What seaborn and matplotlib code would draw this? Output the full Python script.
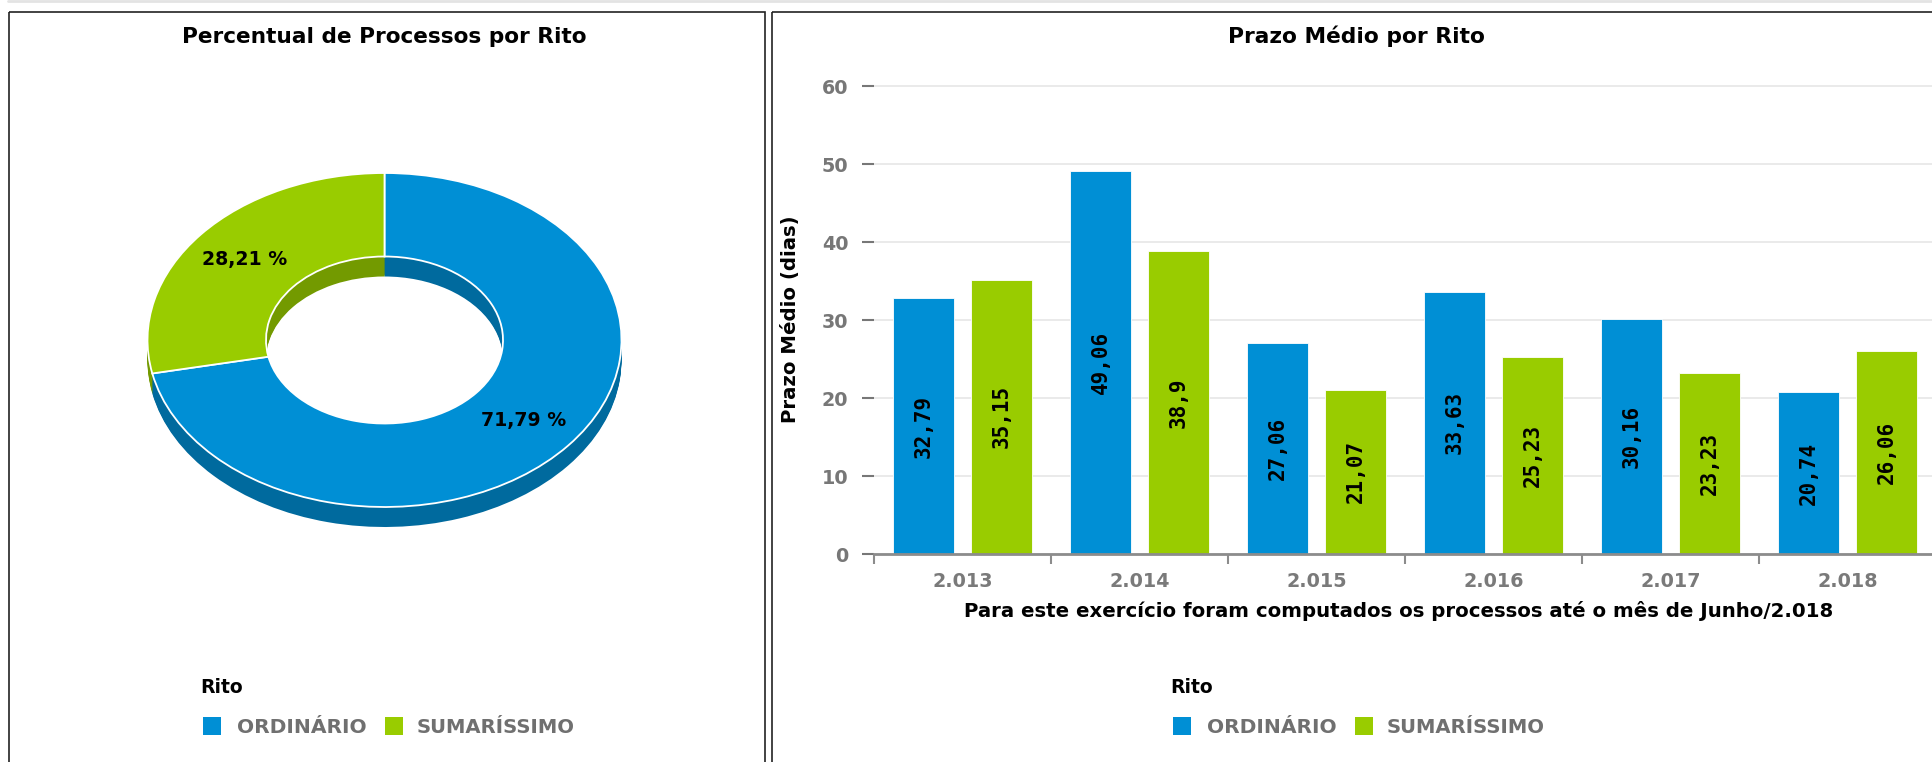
import numpy as np
import pandas as pd
import matplotlib
matplotlib.use("Agg")
import matplotlib.pyplot as plt
from matplotlib.patches import Rectangle
import seaborn as sns

# ---------------- data ----------------
ritos = ["ORDINÁRIO", "SUMARÍSSIMO"]
percentual = [71.79, 28.21]

anos = ["2.013", "2.014", "2.015", "2.016", "2.017", "2.018"]
prazo_ordinario = [32.79, 49.06, 27.06, 33.63, 30.16, 20.74]
prazo_sumarissimo = [35.15, 38.9, 21.07, 25.23, 23.23, 26.06]
y_ticks = [0, 10, 20, 30, 40, 50, 60]

titulo_pizza = "Percentual de Processos por Rito"
titulo_barras = "Prazo Médio por Rito"
rotulo_y = "Prazo Médio (dias)"
rotulo_x = "Para este exercício foram computados os processos até o mês de Junho/2.018"
titulo_legenda = "Rito"

cores = {"ORDINÁRIO": "#008fd5", "SUMARÍSSIMO": "#99cc00"}
cores_lado = {"ORDINÁRIO": "#006a9e", "SUMARÍSSIMO": "#739a00"}

# ---------------- figure ----------------
W, H = 1932, 762
sns.set_theme(style="white")
plt.rcParams["font.family"] = ["DejaVu Sans"]

fig = plt.figure(figsize=(W / 100, H / 100), dpi=100)
fig.patch.set_facecolor("white")


def fx(x):
    return x / W


def fy(y):
    return 1 - y / H


def box(l, t, r, b):
    return [fx(l), fy(b), (r - l) / W, (b - t) / H]


# background / panel frames (pixel coordinates)
bg = fig.add_axes([0, 0, 1, 1], zorder=-5)
bg.set_xlim(0, W)
bg.set_ylim(H, 0)
bg.axis("off")
bg.plot([8, W], [1, 1], color="#e3e3e3", lw=2)
bg.add_patch(Rectangle((8.5, 11.5), 756.5, 800, fill=False, ec="#222222", lw=1.2))
bg.add_patch(Rectangle((771.5, 11.5), 1300, 800, fill=False, ec="#222222", lw=1.2))

# ---------------- 3D-looking donut ----------------
sx, sy = 237, 167
cx, cy = 384.5, 340
depth = 20
axp = fig.add_axes(box(cx - 1.3 * sx, cy - 1.3 * sy, cx + 1.3 * sx, cy + 1.5 * sy))
lado = [cores_lado[r] for r in ritos]
topo = [cores[r] for r in ritos]
for t in np.arange(depth, 0, -1):
    axp.pie(percentual, colors=lado, startangle=90, counterclock=False,
            center=(0, -t / sy), wedgeprops=dict(width=0.5, linewidth=0))
axp.pie(percentual, colors=topo, startangle=90, counterclock=False,
        wedgeprops=dict(width=0.5, edgecolor="white", linewidth=1.3),
        autopct=lambda p: f"{p:.2f} %".replace(".", ","), pctdistance=0.76,
        textprops=dict(fontsize=13.6, fontweight="bold", color="black"))
axp.set_aspect("auto")
axp.set_xlim(-1.3, 1.3)
axp.set_ylim(-1.5, 1.3)
axp.axis("off")

# ---------------- bar chart ----------------
df = pd.DataFrame({
    "ano": anos * 2,
    "rito": [ritos[0]] * len(anos) + [ritos[1]] * len(anos),
    "prazo": prazo_ordinario + prazo_sumarissimo,
})
ax_l, ax_t, ax_r, ax_b = 874, 84, 1936, 554
axb = fig.add_axes(box(ax_l, ax_t, ax_r, ax_b))
sns.barplot(data=df, x="ano", y="prazo", hue="rito", order=anos, hue_order=ritos,
            palette=cores, saturation=1, width=0.882, gap=0.217, errorbar=None,
            edgecolor="white", linewidth=0.6, legend=False, ax=axb)
axb.set_xlim(-0.5, len(anos) - 0.5)
axb.set_ylim(0, 60 * (ax_b - ax_t) / (ax_b - 86))
axb.set_yticks(y_ticks)
axb.yaxis.grid(True, color="#e6e6e6", lw=1.2)
axb.xaxis.grid(False)
axb.set_axisbelow(True)
for s in ["left", "right", "top"]:
    axb.spines[s].set_visible(False)
axb.spines["bottom"].set_color("#8c8c8c")
axb.spines["bottom"].set_linewidth(2)
axb.tick_params(axis="y", left=True, length=8.5, width=1.5, color="#777777", pad=10,
                labelsize=13.8, labelcolor="#777777")
axb.tick_params(axis="x", which="major", bottom=True, length=0, pad=13,
                labelsize=13.8, labelcolor="#7a7a7a")
axb.set_xticks(np.arange(-0.5, len(anos)), minor=True)
axb.tick_params(axis="x", which="minor", bottom=True, length=7, width=1.5, color="#8c8c8c")
for lab in axb.get_xticklabels() + axb.get_yticklabels():
    lab.set_fontweight("bold")

for cont, serie in zip(axb.containers, [prazo_ordinario, prazo_sumarissimo]):
    axb.bar_label(cont, labels=[f"{v:g}".replace(".", ",") for v in serie],
                  label_type="center", rotation=90, fontsize=15, fontweight="bold",
                  family="DejaVu Sans Mono", color="black")

ylab = axb.set_ylabel(rotulo_y, fontsize=14.3, fontweight="bold", color="black")
axb.yaxis.set_label_coords((800 - ax_l) / (ax_r - ax_l), 0.5)
xlab = axb.set_xlabel(rotulo_x, fontsize=14, fontweight="bold", color="black")
axb.xaxis.set_label_coords((1399 - ax_l) / (ax_r - ax_l), -(601 - ax_b) / (ax_b - ax_t))

# ---------------- titles ----------------
t1 = fig.text(fx(384.5), fy(43), titulo_pizza, ha="center", va="baseline",
              fontsize=15.5, fontweight="bold", color="black")
t2 = fig.text(fx(1356), fy(43), titulo_barras, ha="center", va="baseline",
              fontsize=15.5, fontweight="bold", color="black")

# ---------------- legends ----------------
leg_texts = []
for x0 in (200, 1170):
    lt = fig.text(fx(x0), fy(693), titulo_legenda, ha="left", va="baseline",
                  fontsize=14, fontweight="bold", color="black")
    leg_texts.append((lt, 43))
    for rito, sq, tx, wd in zip(ritos, (x0 + 3, x0 + 185), (x0 + 37, x0 + 217), (130, 158)):
        bg.add_patch(Rectangle((sq, 717), 18, 18, fc=cores[rito], ec="none"))
        tt = fig.text(fx(tx), fy(733), rito, ha="left", va="baseline",
                      fontsize=14, fontweight="bold", color="#707070")
        leg_texts.append((tt, wd))

# ---------------- fit text widths to reference ----------------
fig.canvas.draw()
rend = fig.canvas.get_renderer()


def fit(t, target):
    ext = t.get_window_extent(rend)
    w = max(ext.width, ext.height)
    t.set_fontsize(t.get_fontsize() * target / w)


fit(t1, 405)
fit(t2, 257)
fit(xlab, 872)
fit(ylab, 208)
for t, wd in leg_texts:
    fit(t, wd)

fig.savefig("out.png", dpi=100, facecolor="white")
